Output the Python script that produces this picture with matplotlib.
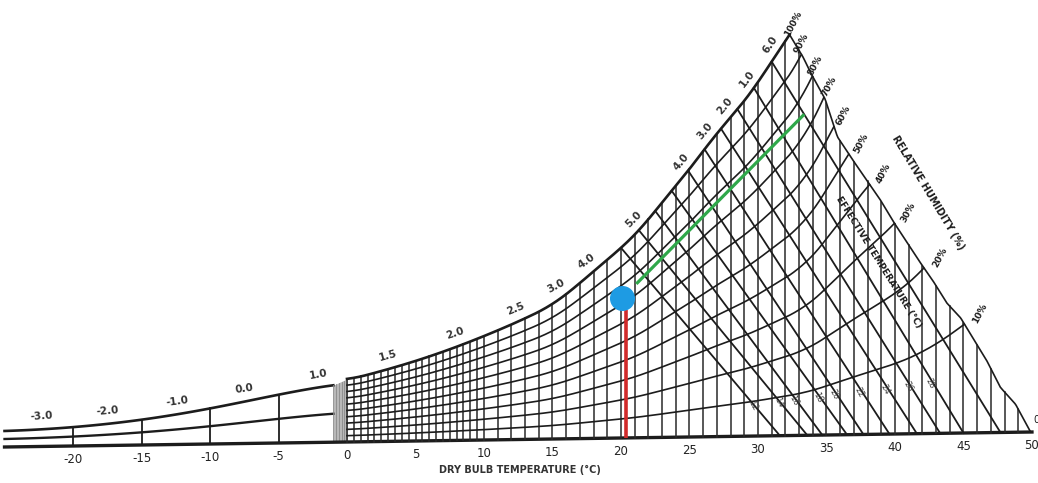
import numpy as np
import matplotlib.pyplot as plt
import matplotlib.transforms as mtransforms

# dry bulb scale along the bottom
temp_ticks = [-20, -15, -10, -5, 0, 5, 10, 15, 20, 25, 30, 35, 40, 45, 50]

# saturation (100 %) curve, height above the 0 % line
sat_cold_t = [-25, -20, -15, -10, -5, -1]
sat_cold_h = [16, 19, 25, 36, 48, 57]
sat_t = [0, 5, 10, 15, 17, 19, 21, 23, 25, 27, 29, 31, 32.3,
         33.3, 34, 35, 36, 37, 38, 40, 42, 45, 46]
sat_h = [62, 80, 104, 134, 156, 179, 202, 236, 268, 305, 334, 375, 401,
         420, 450, 490, 537, 578, 622, 700, 815, 1080, 1200]

# right hand edge of the chart where the RH curves stop
edge_t = [32.3, 33.3, 33.9, 34.9, 35.8, 36.9, 37.8, 38.9, 39.9, 40.8,
          41.8, 42.8, 43.8, 44.8, 46.7, 47.7, 48.8, 49.9]
edge_h = [401, 378, 361, 336, 298, 275, 257, 235, 212, 193,
          172, 152, 130, 115, 72, 45, 28, 0]

rh_levels = [10, 20, 30, 40, 50, 60, 70, 80, 90, 100]
rh_labels = ['10%', '20%', '30%', '40%', '50%', '60%', '70%', '80%', '90%', '100%']
rh_label_dx = [11, 12, 10, 10, 9, 7, 4, 2, 0, 3]

# effective temperature lines: start on saturation curve, end on 0 % line
et_start_t = [20.0, 21.3, 22.5, 23.7, 24.9, 26.1, 27.3, 28.5, 29.7, 31.0]
et_end_t = [31.6, 33.6, 34.7, 36.5, 37.7, 39.6, 41.6, 43.3, 45.0, 47.7]
et_labels = ['12', '14', '16', '18', '20', '22', '24', '26', '28']

# labels written along the saturation curve
curve_label_t = [-22.0, -17.2, -12.1, -7.2, -1.8, 3.3, 8.2, 12.6, 15.6,
                 17.8, 21.2, 24.7, 26.4, 27.9, 29.5, 31.2]
curve_labels = ['-3.0', '-2.0', '-1.0', '0.0', '1.0', '1.5', '2.0', '2.5', '3.0',
                '4.0', '5.0', '4.0', '3.0', '2.0', '1.0', '6.0']
curve_label_rot = [4, 5, 8, 8, 10, 15, 18, 22, 28, 35, 45, 50, 50, 50, 52, 55]

# marked state point
point_t, point_h = 20.1, 140
red_t = [20.35, 20.35]
red_h = [0, 128]
green_t = [21.2, 33.3]
green_h = [155, 320]

# smooth the hand read saturation values: running mean of log height
grid = np.arange(-3, 49, 0.02)
log_h = np.interp(grid, sat_t, np.log(sat_h))
win = 141
smooth = np.convolve(np.pad(log_h, win // 2, mode='edge'), np.ones(win) / win, mode='valid')
cold_fit = np.polyfit(sat_cold_t, np.log(sat_cold_h), 3)


def sat_at(t):
    return np.exp(np.interp(t, grid, smooth))


def cold_at(t):
    return np.exp(np.polyval(cold_fit, t))


def edge_at(t):
    t = np.asarray(t, dtype=float)
    return np.where(t < edge_t[0], np.inf, np.interp(t, edge_t, edge_h))


fig = plt.figure(figsize=(10.38, 4.83), dpi=100)
ax = fig.add_axes([0, 0, 1, 1])
ax.set_xlim(-25.33, 50.44)
ax.set_ylim(-36, 447)
ax.axis('off')

# scan is slightly tilted: 0 % line rises ~15 px from left to right
tr = mtransforms.Affine2D(np.array([[1, 0, 0], [0.2, 1, 5], [0, 0, 1]])) + ax.transData

ink = '#1c1c1c'

# cold part (below 0 C)
tc = np.linspace(sat_cold_t[0], sat_cold_t[-1], 100)
hc = cold_at(tc)
ax.plot(tc, hc, color=ink, lw=1.9, transform=tr)
ax.plot(tc, 0.5 * hc, color=ink, lw=1.7, transform=tr)
for t in [-20, -15, -10, -5]:
    ax.plot([t, t], [0, cold_at(t)], color=ink, lw=1.3, transform=tr)

# hatched strip just below 0 C
ax.fill_between([-1, 0], [0, 0], [cold_at(-1), sat_at(0)], color='#b8b8b8', lw=0, transform=tr)
for t in np.arange(-1, 0.01, 0.2):
    ax.plot([t, t], [0, 57 + 5 * (t + 1)], color='#8a8a8a', lw=0.6, transform=tr)

# 0 % line
ax.plot([-25, 50], [0, 0], color=ink, lw=2.4, transform=tr)

# dry bulb verticals
vert_t = list(np.arange(0, 10, 0.5)) + list(range(10, 50))
for t in vert_t:
    top = min(sat_at(t), float(edge_at(t)))
    ax.plot([t, t], [0, top], color='#2a2a2a', lw=1.1, transform=tr)

# relative humidity curves
tt = np.linspace(0, 50, 2501)
for rh, lbl, dx in zip(rh_levels, rh_labels, rh_label_dx):
    h = rh / 100 * sat_at(tt)
    keep = h <= edge_at(tt)
    if rh == 100:
        keep &= tt <= edge_t[0]
    lw = 1.9 if rh == 100 else 1.2
    ax.plot(tt[keep], h[keep], color=ink, lw=lw, transform=tr)
    ax.annotate(lbl, (tt[keep][-1], h[keep][-1]), xycoords=tr,
                xytext=(dx, 8), textcoords='offset points', rotation=62,
                ha='center', va='center', fontsize=6.5, fontweight='bold', color=ink)

ax.annotate('0', (49.9, 0), xycoords=tr, xytext=(4, 9), textcoords='offset points',
            ha='center', va='center', fontsize=7, color=ink)

# right edge of the chart
e_t = np.linspace(edge_t[0], edge_t[-1], 200)
ax.plot(e_t, edge_at(e_t), color=ink, lw=1.2, transform=tr)

# effective temperature lines
for t0, t1 in zip(et_start_t, et_end_t):
    ax.plot([t0, t1], [sat_at(t0), 0], color=ink, lw=1.3, transform=tr)

for i, lbl in enumerate(et_labels):
    t0, t1 = et_start_t[i], et_end_t[i]
    tl = t1 - 0.12 * (t1 - t0) - 0.6
    ax.annotate(lbl, (tl, 0.12 * sat_at(t0) + 8), xycoords=tr, rotation=-62,
                ha='center', va='center', fontsize=6, color='#444444')

# labels along the saturation curve
for t, lbl, rot in zip(curve_label_t, curve_labels, curve_label_rot):
    h = cold_at(t) if t < -1 else sat_at(t)
    ax.annotate(lbl, (t, h), xycoords=tr, xytext=(-3, 9), textcoords='offset points',
                rotation=rot, ha='center', va='center', fontsize=7.5,
                fontweight='bold', color='#333333')

ax.annotate('RELATIVE HUMIDITY (%)', (42.4, 241), xycoords=tr, rotation=-59,
            ha='center', va='center', fontsize=7, fontweight='bold', color=ink)
ax.annotate('EFFECTIVE TEMPERATURE (°C)', (38.8, 172), xycoords=tr, rotation=-58,
            ha='center', va='center', fontsize=6.5, fontweight='bold', color=ink)

# tick labels and axis title
for t in temp_ticks:
    ax.annotate(str(t), (t, 0), xycoords=tr, xytext=(0, -10), textcoords='offset points',
                ha='center', va='center', fontsize=8.5, color='#222222')
ax.annotate('DRY BULB TEMPERATURE (°C)', (12.6, 0), xycoords=tr, xytext=(0, -22),
            textcoords='offset points', ha='center', va='center', fontsize=7,
            fontweight='bold', color='#333333')

# marked point and lines
ax.plot(red_t, red_h, color='#d12a2a', lw=2.6, solid_capstyle='butt', transform=tr, zorder=5)
ax.plot(green_t, green_h, color='#2fa84a', lw=2.3, transform=tr, zorder=5)
ax.plot([point_t], [point_h], marker='o', ms=17, color='#1e9be3', transform=tr, zorder=6)

fig.savefig('out.png', dpi=100)
